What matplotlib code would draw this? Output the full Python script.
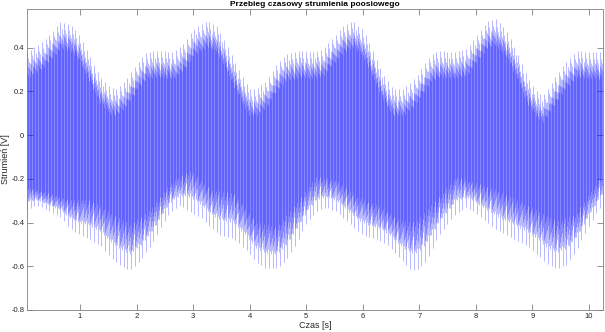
import numpy as np
import matplotlib.pyplot as plt

plt.rcParams['font.family'] = ['Liberation Sans', 'DejaVu Sans']

# obwiednia górna (wierzchołki impulsów)
t_gora = [0.063, 0.36, 0.65, 0.83, 1.0, 1.18, 1.36, 1.54, 1.65, 1.83, 2.0, 2.18, 2.42, 2.66,
          2.83, 3.01, 3.25, 3.42, 3.6, 3.83, 4.0, 4.12, 4.30, 4.48, 4.65, 4.89, 5.12, 5.30,
          5.48, 5.66, 5.83, 6.01, 6.19, 6.36, 6.54, 6.72, 6.89, 7.01, 7.19, 7.36, 7.60, 7.84,
          8.01, 8.19, 8.34, 8.54, 8.72, 8.90, 9.07, 9.19, 9.37, 9.54, 9.78, 10.02, 10.25]
u_gora = [0.38, 0.43, 0.516, 0.508, 0.455, 0.356, 0.265, 0.216, 0.21, 0.257, 0.325, 0.38, 0.386, 0.38,
          0.417, 0.485, 0.524, 0.50, 0.41, 0.287, 0.21, 0.21, 0.25, 0.325, 0.37, 0.386, 0.38, 0.394,
          0.447, 0.50, 0.524, 0.478, 0.38, 0.28, 0.21, 0.21, 0.25, 0.29, 0.363, 0.386, 0.38, 0.394,
          0.455, 0.516, 0.535, 0.478, 0.386, 0.27, 0.203, 0.18, 0.25, 0.318, 0.386, 0.38, 0.378]

# obwiednia dolna (minima impulsów)
t_dol = [0.063, 0.24, 0.42, 0.65, 0.83, 1.0, 1.18, 1.36, 1.54, 1.71, 1.89, 2.07, 2.24, 2.42,
         2.6, 2.77, 2.95, 3.13, 3.31, 3.5, 3.71, 3.95, 4.12, 4.30, 4.48, 4.65, 4.83, 5.0,
         5.18, 5.36, 5.53, 5.71, 5.89, 6.07, 6.30, 6.48, 6.66, 6.83, 6.95, 7.13, 7.30, 7.48,
         7.66, 7.84, 8.01, 8.19, 8.37, 8.54, 8.72, 8.90, 9.07, 9.25, 9.43, 9.60, 9.78, 9.96,
         10.13, 10.25]
u_dol = [-0.343, -0.32, -0.343, -0.373, -0.427, -0.457, -0.477, -0.503, -0.557, -0.595, -0.617, -0.572, -0.51, -0.427,
         -0.35, -0.32, -0.35, -0.373, -0.42, -0.46, -0.472, -0.526, -0.58, -0.61, -0.61, -0.572, -0.495, -0.404,
         -0.35, -0.328, -0.35, -0.389, -0.434, -0.465, -0.48, -0.51, -0.564, -0.61, -0.62, -0.572, -0.48, -0.41,
         -0.358, -0.328, -0.358, -0.396, -0.434, -0.457, -0.48, -0.503, -0.54, -0.587, -0.61, -0.595, -0.526, -0.434,
         -0.358, -0.312]

# dolna granica gęstego pasma sygnału
t_rdzen = [0.063, 0.42, 0.83, 1.18, 1.54, 1.89, 2.24, 2.6, 2.95, 3.31, 3.71, 4.12, 4.48, 4.83,
           5.18, 5.53, 5.89, 6.30, 6.66, 6.92, 7.30, 7.66, 8.01, 8.37, 8.72, 9.07, 9.43, 9.78,
           10.13, 10.25]
u_rdzen = [-0.236, -0.265, -0.297, -0.297, -0.357, -0.41, -0.343, -0.22, -0.16, -0.25, -0.265, -0.40, -0.42, -0.31,
           -0.19, -0.205, -0.28, -0.328, -0.39, -0.40, -0.297, -0.19, -0.22, -0.25, -0.297, -0.343, -0.396, -0.357,
           -0.22, -0.17]

okres = 0.0658  # odstęp impulsów widoczny na wykresie
t0, t1 = 0.063, 10.25
warstwy = 10

fig = plt.figure(figsize=(6.05, 3.32), dpi=100)
ax = fig.add_axes([27/605, 22/332, 576/605, 301/332])

t = np.arange(t0, t1, okres)
for i in range(warstwy):
    ti = t + okres * ((i * 3) % warstwy) / warstwy
    g = np.interp(ti, t_gora, u_gora)
    d = np.interp(ti, t_dol, u_dol)
    r = np.interp(ti, t_rdzen, u_rdzen)
    if i == 0:
        gi, di = g, d
    elif i == 1:
        gi, di = g - 0.03, d + 0.04 * (r - d) / 0.1
    else:
        f = (i - 2) / (warstwy - 3)
        gi = g - 0.05 - 0.07 * f
        di = d + (r - d) * (0.35 + 0.65 * f)
    ax.vlines(ti, di, gi, color='#0000ff', lw=0.7, alpha=0.28)

ax.set_xlim(t0, t1)
ax.set_ylim(-0.8, 0.577)
ax.set_xticks(range(1, 11))
ax.set_yticks([-0.8, -0.6, -0.4, -0.2, 0, 0.2, 0.4])
ax.set_yticklabels(['-0.8', '-0.6', '-0.4', '-0.2', '0', '0.2', '0.4'])

szary = '#808080'
for s in ax.spines.values():
    s.set_color(szary)
    s.set_linewidth(0.6)
ax.tick_params(direction='in', length=4, width=0.6, color=szary, labelsize=5.5,
               labelcolor='#262626', top=True, right=True, pad=2)

ax.set_title('Przebieg czasowy strumienia poosiowego', fontsize=6, fontweight='bold', pad=2)
ax.set_xlabel('Czas [s]', fontsize=6.5, labelpad=1, color='#262626')
ax.set_ylabel('Strumień [V]', fontsize=6.5, labelpad=1, color='#262626')

fig.savefig('out.png', dpi=100)
